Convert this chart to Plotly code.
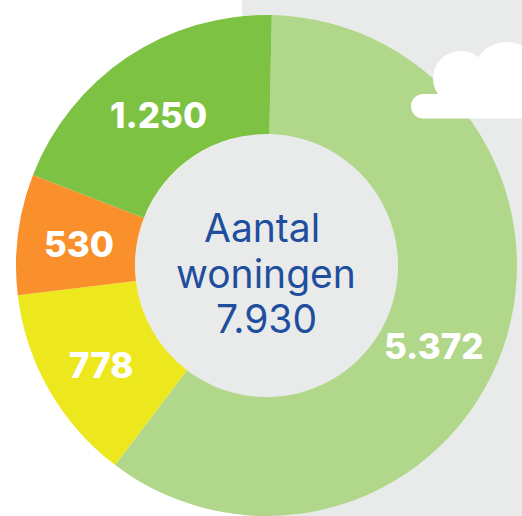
import plotly.graph_objects as go

labels = ["5.372", "778", "530", "1.250"]
slice_arcs = [216, 46, 28, 70]
colors = ["#B1D78B", "#EDE81E", "#F9902C", "#7DC242"]
center_lines = ["Aantal", "woningen", "7.930"]

W, H = 522, 516
def px(x): return x / W
def py(y): return 1 - y / H

fig = go.Figure(go.Pie(
    values=slice_arcs, labels=labels, sort=False, direction="clockwise", rotation=1.2,
    hole=0.525, marker=dict(colors=colors, line=dict(width=0)), textinfo="none",
    hoverinfo="skip", showlegend=False,
    domain=dict(x=[px(16), px(517)], y=[0, py(15)]),
))

shapes = [
    dict(type="rect", xref="paper", yref="paper", x0=px(242), x1=1, y0=0, y1=1,
         fillcolor="#E9EBEA", line_width=0, layer="below"),
    dict(type="circle", xref="paper", yref="paper", x0=px(135), x1=px(398), y0=py(397.5), y1=py(134.5),
         fillcolor="#E9EBEA", line_width=0, layer="below"),
    dict(type="circle", xref="paper", yref="paper", x0=px(433), x1=px(488), y0=py(106), y1=py(51),
         fillcolor="white", line_width=0, layer="above"),
    dict(type="circle", xref="paper", yref="paper", x0=px(473), x1=px(540), y0=py(108), y1=py(42),
         fillcolor="white", line_width=0, layer="above"),
    dict(type="circle", xref="paper", yref="paper", x0=px(411), x1=px(435), y0=py(118.5), y1=py(94),
         fillcolor="white", line_width=0, layer="above"),
    dict(type="rect", xref="paper", yref="paper", x0=px(423), x1=1, y0=py(118.5), y1=py(94),
         fillcolor="white", line_width=0, layer="above"),
]

ann = []
for t, x, y in zip(labels, [434, 101, 79, 158], [346, 365, 244, 115]):
    ann.append(dict(text=t, x=px(x), y=py(y), xref="paper", yref="paper", showarrow=False,
                    xanchor="center", yanchor="middle",
                    font=dict(family="Inter", size=35, weight=800, color="white")))
for t, x, y in zip(center_lines, [262, 266, 266], [227, 273, 318]):
    ann.append(dict(text=t, x=px(x), y=py(y), xref="paper", yref="paper", showarrow=False,
                    xanchor="center", yanchor="middle",
                    font=dict(family="Inter", size=39, color="#1F4E9E")))

fig.update_layout(width=W, height=H, margin=dict(l=0, r=0, t=0, b=0), paper_bgcolor="white",
                  shapes=shapes, annotations=ann)
fig.write_html("out.html", config={"displayModeBar": False},
               post_script="document.body.style.margin='0';document.body.style.overflow='hidden';")
